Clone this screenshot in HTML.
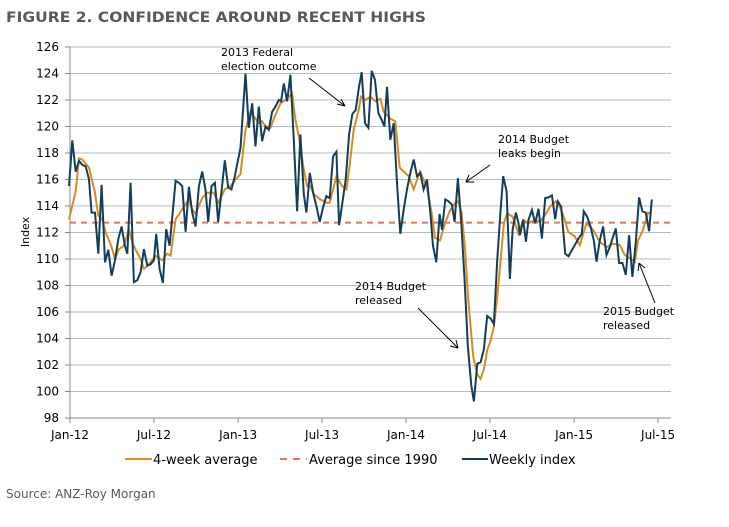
<!DOCTYPE html>
<html><head><meta charset="utf-8"><style>
html,body{margin:0;padding:0;background:#fff;}
svg{display:block;font-family:"DejaVu Sans","Liberation Sans",sans-serif;}
</style></head><body>
<svg id="chart" width="729" height="527" viewBox="0 0 729 527" xmlns="http://www.w3.org/2000/svg">
<text x="6" y="22" font-size="14" font-weight="bold" fill="#595959" textLength="420" lengthAdjust="spacingAndGlyphs">FIGURE 2. CONFIDENCE AROUND RECENT HIGHS</text>
<g id="grid"></g>
<g id="axes"></g>
<line id="avgline" stroke="#e8735a" stroke-width="2" stroke-dasharray="6,5"/>
<path id="orange" fill="none" stroke="#d98b1c" stroke-width="2"/>
<path id="navy" fill="none" stroke="#123e5c" stroke-width="2"/>
<g font-size="11" fill="#000">
<text x="221" y="56">2013 Federal</text><text x="221" y="70">election outcome</text>
<line x1="309" y1="78" x2="345" y2="106" stroke="#000" stroke-width="1"/><path d="M345 106 L337 104 M345 106 L341 99" stroke="#000" fill="none"/>
<text x="498" y="143">2014 Budget</text><text x="498" y="157">leaks begin</text>
<line x1="490" y1="165" x2="466" y2="182" stroke="#000"/><path d="M466 182 L469 175 M466 182 L474 182" stroke="#000" fill="none"/>
<text x="355" y="290">2014 Budget</text><text x="355" y="304">released</text>
<line x1="418" y1="308" x2="458" y2="348" stroke="#000"/><path d="M458 348 L450 346 M458 348 L456 340" stroke="#000" fill="none"/>
<text x="603" y="315">2015 Budget</text><text x="603" y="329">released</text>
<line x1="655" y1="303" x2="639" y2="263" stroke="#000"/><path d="M639 263 L638 271 M639 263 L645 268" stroke="#000" fill="none"/>
</g>
<text transform="translate(29,232) rotate(-90)" text-anchor="middle" font-size="11">Index</text>
<g font-size="13">
<g><line x1="125" y1="459" x2="152" y2="459" stroke="#d98b1c" stroke-width="2"/><text x="153" y="464">4-week average</text></g>
<g><line x1="280" y1="459" x2="307" y2="459" stroke="#e8735a" stroke-width="2" stroke-dasharray="7,6"/><text x="309" y="464">Average since 1990</text></g>
<g><line x1="462" y1="459" x2="488" y2="459" stroke="#123e5c" stroke-width="2"/><text x="489" y="464">Weekly index</text></g>
</g>
<text x="6" y="498" font-size="12" fill="#595959">Source: ANZ-Roy Morgan</text>
</svg>
<script>
const weeklyWeeks = [0,1,2,3,4,5,6,6.8,7.8,8.8,9.8,10.8,11.8,12.8,13.8,14.8,15.8,16.8,17.5,18.5,19.5,20.5,21.5,22.5,23.5,24.5,25.5,26.2,27.2,28.2,29.2,30.2,32,33,34,35,36,37,38,39,40,41,41.8,42.8,43.8,44.8,45.8,46.8,47.8,48.8,49.8,51.5,
53,54,55,56,57,58,59,60,61,62,63,63.7,64.5,65.5,66.5,67.5,68.5,69.5,70.5,71.3,72.3,73.3,74.3,75.3,76.3,77.3,78.3,79.3,80.3,81.1,82.1,83.1,84.1,85.1,86.1,87.1,87.9,88.9,89.9,90.9,91.9,92.9,93.9,94.7,95.5,96.5,97.5,98.5,99.5,100.5,101.5,102.5,103.5,104.5,105.5,106.5,107.5,108.5,109.3,110.3,111.3,
112,113,114,115,115.8,116.8,117.8,118.8,119.8,120.8,121.6,122.6,123.6,124.6,125.6,126.6,127.6,128.6,129.6,130.4,131.4,132.4,133.2,134.2,135,135.4,136.4,137.2,138,139,140,141,142,143,144,145,146,146.8,147.8,149,150,151,152,153,154,154.6,155.6,156.6,157.6,158.4,159.4,160.4,161.4,162.4,163.4,164.2,165.2,166.2,167.2,168.2,169.2,170.2,171.2,172.2,173.2,174.2,175];
const weekly = [115.5,118.95,116.6,117.4,117.1,117.0,116,113.5,113.5,110.4,115.6,109.75,110.7,108.75,109.9,111.5,112.45,111,110.4,115.75,108.25,108.4,109,110.75,109.5,109.6,109.9,111.9,109.25,108.2,112.25,111,115.9,115.75,115.5,112.05,115.45,113.5,112.45,115.5,116.6,115.25,112.8,115.5,115.75,112.8,115.1,117.45,115.4,115.25,116.25,118.4,
124,119.9,121.75,118.5,121.5,118.9,120,119.75,121.1,121.5,122,121.9,123.25,121.9,123.9,119,113.6,119.4,114.9,113.5,116.5,115,114,112.8,113.9,114.75,114.6,117.75,118.1,112.55,114.25,116,119.4,120.95,121.25,123,124.1,120.25,119.9,124.2,123.5,121,120.5,120,123,119,120.25,115.75,111.9,113.75,115.25,116.5,117.5,116.25,116.5,115.25,116,113.5,111,109.75,113.4,
112.2,114.5,114.35,114.1,112.8,116.1,112.7,108.4,103.35,100.45,99.25,102.1,102.2,103.2,105.7,105.5,105.1,109.9,113.7,116.25,115.1,108.5,112.2,113.5,112.7,111.8,112.95,111.3,112.95,113.7,112.7,113.8,111.55,114.6,114.65,114.8,113,114.35,113.95,110.4,110.2,110.65,111.1,111.55,111.9,113.6,113.2,112.45,111.4,109.8,111.4,112.45,110.3,110.9,111.7,112.3,109.7,109.7,108.8,111.8,108.65,111.3,114.65,113.6,113.5,112.1,114.5];
const avgWeeks = [0,2,3,4,6,7.8,8.8,10,11,12,13,13.8,15,16.5,18,19,20.2,21.5,22.5,24,26,28,29.5,30.5,32,34,36,37,38,40,41.5,43.5,44.8,46.8,48.5,50,51.5,53,54.5,57,58,59,60.5,61.5,63.5,65.5,67,68,69,70.5,71.5,72.5,73.5,75.5,77.3,78.3,80.3,82,83.3,84.3,85.5,87,87.7,89,90.5,92,93.5,94.5,96.5,98,99.3,100.5,102,103.5,105.4,107.4,108.9,109.9,111.4,112.9,114.4,115.9,116.9,117.9,118.9,119.9,121.4,122.6,123.6,124.6,125.6,126.6,127.6,128.6,129.6,130.6,131.6,133.2,135,136.4,138,139.9,141.4,142.9,144.4,146.2,147.4,148.6,149.9,151.9,153.4,155.4,157.4,159.4,161.4,163.4,165.4,166.9,168.4,169.9,170.9,172.4,173.9,175];
const avgValues = [113,115.1,117.6,117.5,116.9,115,113.25,113,112,111.4,110.75,110,110.75,111,112.25,111.25,110.6,110,109.25,109.6,110.25,109.9,110.4,110.25,113,113.75,114.5,113.75,113.4,114.6,115,115,114.25,115.25,115.5,116,116.4,119.75,121.1,120.25,120.4,120,119.9,120.6,121.75,122.1,122.5,120.5,119.25,116.75,115.5,115.5,114.9,114.5,114.25,114.25,116.25,115.5,115.25,117.1,119.75,121.25,122.25,122,122.25,121.9,122.1,121.1,120.6,120.4,116.9,116.6,116.25,115.25,116.6,115.5,113.5,111.6,111.4,112.7,113.65,114.2,114.35,113.5,110.9,106.9,102.6,101.3,100.95,101.7,103.1,103.85,104.9,107.1,109.9,112.7,113.45,113.2,111.9,112.95,112.7,112.95,112.8,113.3,113.95,114.35,113.95,113.2,112.05,111.7,111.05,112.7,112.2,111.3,110.9,111.15,111.05,110.3,110.05,109.8,111.4,112.2,113.5,113.45];
const longRunAverage = [112.75];
const yTicks = [98,100,102,104,106,108,110,112,114,116,118,120,122,124,126];
const xTickLabels = ["Jan-12","Jul-12","Jan-13","Jul-13","Jan-14","Jul-14","Jan-15","Jul-15"];
const xTickWeeks = [0.3,25.5,50.8,76,101.2,126.4,151.7,176.9];

const NS="http://www.w3.org/2000/svg";
const X0=70,X1=671,Y0=47,Y1=418;
const wx = w => 69 + w*3.33;
const vy = v => Y0 + (126 - v)*(Y1-Y0)/28;
function mk(tag, attrs, parent){const e=document.createElementNS(NS,tag);for(const k in attrs)e.setAttribute(k,attrs[k]);parent.appendChild(e);return e;}
const grid=document.getElementById('grid'), axes=document.getElementById('axes');
yTicks.forEach(t=>{
  if(t>98){const g=mk('line',{x1:X0,x2:X1,y1:vy(t),y2:vy(t),stroke:'#b4bcc4','stroke-width':1},grid);
  
  }
  const tk=mk('line',{x1:X0-5,x2:X0,y1:vy(t),y2:vy(t),stroke:'#888'},axes);
  
  
  const lb=mk('text',{x:X0-11,y:vy(t)+4,'text-anchor':'end','font-size':12},axes);
  lb.textContent=t;
  
  
});
const ya=mk('line',{x1:X0,x2:X0,y1:Y0,y2:Y1,stroke:'#888'},axes);


const xa=mk('line',{x1:X0,x2:X1,y1:Y1,y2:Y1,stroke:'#888'},axes);


xTickLabels.forEach((l,i)=>{
  const x=wx(xTickWeeks[i]);
  const tk=mk('line',{x1:x,x2:x,y1:Y1,y2:Y1+5,stroke:'#888'},axes);
  
  
  const lb=mk('text',{x:x,y:Y1+21,'text-anchor':'middle','font-size':12},axes);
  lb.textContent=l;
  
  
});
const al=document.getElementById('avgline');
al.setAttribute('x1',X0);al.setAttribute('x2',X1);
al.setAttribute('y1',vy(longRunAverage[0]));al.setAttribute('y2',vy(longRunAverage[0]));
document.getElementById('navy').setAttribute('d',weekly.map((v,i)=>(i?'L':'M')+wx(weeklyWeeks[i]).toFixed(1)+' '+vy(v).toFixed(1)).join(''));
document.getElementById('orange').setAttribute('d',avgValues.map((v,i)=>(i?'L':'M')+wx(avgWeeks[i]).toFixed(1)+' '+vy(v).toFixed(1)).join(''));
</script>
</body></html>
